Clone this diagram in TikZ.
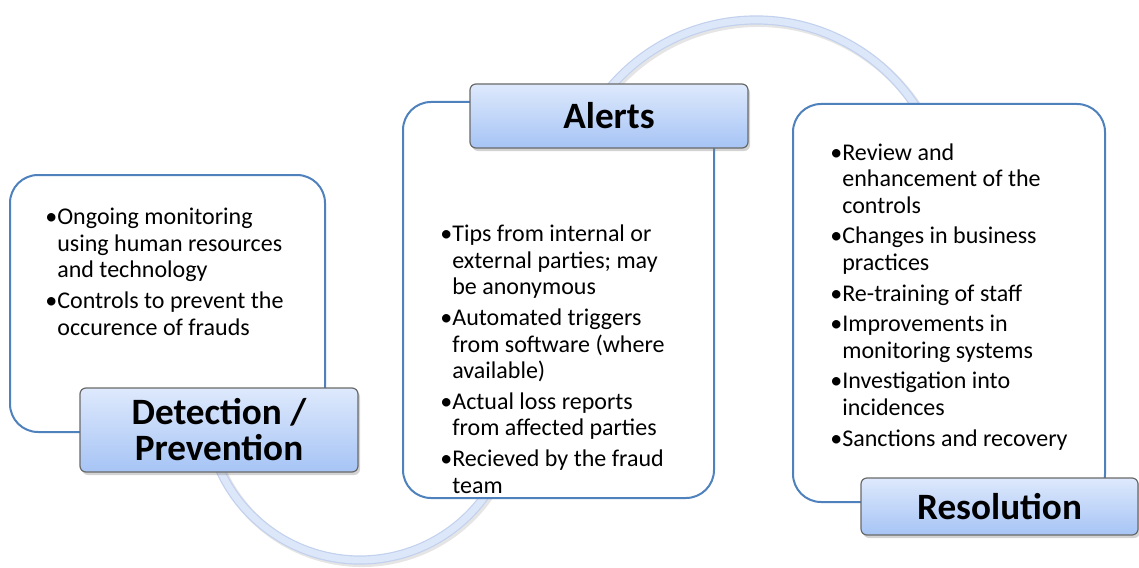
\documentclass[tikz,border=0pt]{standalone}
\usepackage{fontspec}
\setmainfont{Carlito}
\usetikzlibrary{shadows}
\definecolor{boxborder}{RGB}{79,129,189}
\definecolor{ttop}{RGB}{222,233,252}
\definecolor{tbot}{RGB}{166,196,245}
\definecolor{tborder}{RGB}{105,105,105}
\definecolor{arcfill}{RGB}{221,231,250}
\definecolor{arcedge}{RGB}{194,209,237}
\newcommand{\bind}{\hphantom{\textbullet}}
\tikzset{
  contentbox/.style={draw=boxborder, line width=1pt, fill=white, rounded corners=14pt, inner sep=0pt, outer sep=0pt},
  titlebox/.style={draw=tborder, line width=0.6pt, rounded corners=3pt, top color=ttop, bottom color=tbot,
    inner sep=0pt, font=\fontsize{18.6pt}{18pt}\selectfont\bfseries, align=center,
    drop shadow={shadow xshift=1pt, shadow yshift=-1.5pt, opacity=0.35}},
  bodytext/.style={anchor=base west, align=left, inner sep=0pt, font=\fontsize{12pt}{13.3pt}\selectfont},
  bandshadow/.style={line width=5pt, draw=black, opacity=0.10},
  bandedge/.style={line width=4.6pt, draw=arcedge},
  bandfill/.style={line width=3.4pt, draw=arcfill},
}
\begin{document}
\begin{tikzpicture}[x=0.5pt, y=0.5pt]
\useasboundingbox (0,0) rectangle (1139,-567);
% arc centres
\coordinate (c1) at (360,-406);
\coordinate (c2) at (756,-211);
% bottom connector (Detection -> Alerts)
\draw[bandshadow] ([shift={(195:77pt)}]c1) ++(1pt,-1pt) arc[start angle=195, end angle=330, radius=77pt];
\draw[bandedge] ([shift={(195:77pt)}]c1) arc[start angle=195, end angle=330, radius=77pt];
\draw[bandfill] ([shift={(195:77pt)}]c1) arc[start angle=195, end angle=330, radius=77pt];
% top connector (Alerts -> Resolution)
\draw[bandshadow] ([shift={(150:95.5pt)}]c2) ++(1pt,-1pt) arc[start angle=150, end angle=30, radius=95.5pt];
\draw[bandedge] ([shift={(150:95.5pt)}]c2) arc[start angle=150, end angle=30, radius=95.5pt];
\draw[bandfill] ([shift={(150:95.5pt)}]c2) arc[start angle=150, end angle=30, radius=95.5pt];

% content boxes
\node[contentbox, minimum width=157.5pt, minimum height=128.5pt] (dbox) at (167.5,-303.5) {};
\node[contentbox, minimum width=155.5pt, minimum height=198pt] (abox) at (558.5,-300) {};
\node[contentbox, minimum width=156pt, minimum height=199pt] (rbox) at (949,-303) {};

% body texts (anchored at the baseline of the last line)
\node[bodytext] (dtext) at (45,-335) {\textbullet Ongoing monitoring\\\bind using human resources\\\bind and technology\\[2pt]\textbullet Controls to prevent the\\\bind occurence of frauds};
\node[bodytext] (atext) at (440,-493) {\textbullet Tips from internal or\\\bind external parties; may\\\bind be anonymous\\[2pt]\textbullet Automated triggers\\\bind from software (where\\\bind available)\\[2pt]\textbullet Actual loss reports\\\bind from affected parties\\[2pt]\textbullet Recieved by the fraud\\\bind team};
\node[bodytext] (rtext) at (830,-446) {\textbullet Review and\\\bind enhancement of the\\\bind controls\\[2pt]\textbullet Changes in business\\\bind practices\\[2pt]\textbullet Re-training of staff\\[2pt]\textbullet Improvements in\\\bind monitoring systems\\[2pt]\textbullet Investigation into\\\bind incidences\\[2pt]\textbullet Sanctions and recovery};

% title boxes
\node[titlebox, minimum width=139pt, minimum height=42pt] (dtitle) at (219,-430) {Detection /\\Prevention};
\node[titlebox, minimum width=139pt, minimum height=32pt] (atitle) at (609,-116) {Alerts};
\node[titlebox, minimum width=138.5pt, minimum height=28.5pt] (rtitle) at (999.5,-506.5) {Resolution};
\end{tikzpicture}
\end{document}
